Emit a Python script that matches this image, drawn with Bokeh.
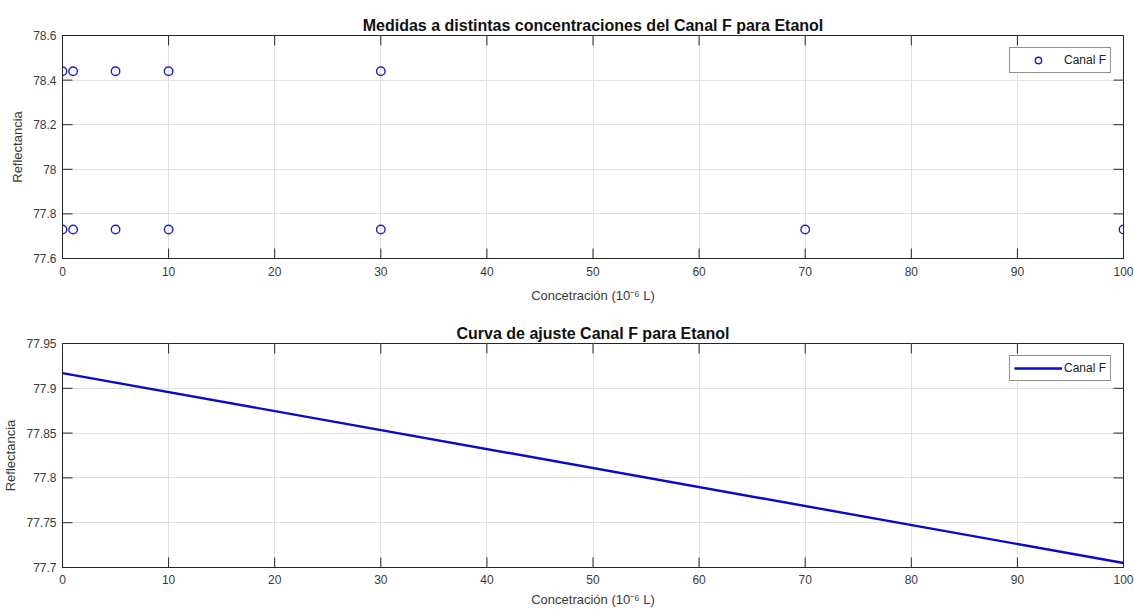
from bokeh.plotting import figure
from bokeh.layouts import column
from bokeh.models import Range1d, FixedTicker, CustomJSTickFormatter
from bokeh.embed import file_html
from bokeh.resources import INLINE

# ---- data ----
conc_meas = [0, 1, 5, 10, 30, 0, 1, 5, 10, 30, 70, 100]
refl_meas = [78.44, 78.44, 78.44, 78.44, 78.44,
             77.73, 77.73, 77.73, 77.73, 77.73, 77.73, 77.73]
fit_conc = [0, 100]
fit_refl = [77.917, 77.705]

x_ticks = [0, 10, 20, 30, 40, 50, 60, 70, 80, 90, 100]
y_ticks_top = [77.6, 77.8, 78.0, 78.2, 78.4, 78.6]
y_ticks_bottom = [77.7, 77.75, 77.8, 77.85, 77.9, 77.95]

title_top = "Medidas a distintas concentraciones del Canal F para Etanol"
title_bottom = "Curva de ajuste Canal F para Etanol"
x_label = "Concetración (10⁻⁶ L)"
y_label = "Reflectancia"
series_name = "Canal F"

FONT = "Liberation Sans"
DARK = "#262626"
GRID = "#e0e0e0"
TXT = "#3a3a3a"
TICK_PX = 10
FRAME_W = 1061

fmt_code = "return String(parseFloat(tick.toFixed(2)));"


def style(p, xr, yr, yticks, frame_h, xl_standoff, xa_standoff):
    p.title.text_font = FONT
    p.title.text_font_size = "16px"
    p.title.text_font_style = "bold"
    p.title.text_color = "#111111"
    p.title.align = "center"
    p.title.standoff = 3
    p.outline_line_color = DARK
    p.outline_line_width = 1
    p.xaxis.ticker = FixedTicker(ticks=x_ticks)
    p.yaxis.ticker = FixedTicker(ticks=yticks)
    p.yaxis.formatter = CustomJSTickFormatter(code=fmt_code)
    for ax in [p.xaxis[0], p.yaxis[0]]:
        ax.major_tick_in = 0
        ax.major_tick_out = 0
        ax.minor_tick_line_color = None
        ax.major_tick_line_color = None
        ax.axis_line_color = DARK
        ax.major_label_text_font = FONT
        ax.major_label_text_font_size = "12px"
        ax.major_label_text_color = TXT
        ax.axis_label_text_font = FONT
        ax.axis_label_text_font_size = "13px"
        ax.axis_label_text_font_style = "normal"
        ax.axis_label_text_color = TXT
    p.xaxis.major_label_standoff = xl_standoff
    p.xaxis.axis_label_standoff = xa_standoff
    p.yaxis.major_label_standoff = 6
    p.yaxis.axis_label_standoff = 5
    p.xaxis.axis_label = x_label
    p.yaxis.axis_label = y_label
    p.xgrid.ticker = FixedTicker(ticks=x_ticks)
    p.ygrid.ticker = FixedTicker(ticks=yticks)
    p.grid.grid_line_color = GRID
    p.grid.grid_line_width = 1

    # inward tick marks on all four sides (box on), length in pixels
    dy = TICK_PX * (yr[1] - yr[0]) / frame_h
    dx = TICK_PX * (xr[1] - xr[0]) / FRAME_W
    n = len(x_ticks)
    p.segment(x0=x_ticks, y0=[yr[0]] * n, x1=x_ticks, y1=[yr[0] + dy] * n,
              line_color=DARK, line_width=1)
    p.segment(x0=x_ticks, y0=[yr[1]] * n, x1=x_ticks, y1=[yr[1] - dy] * n,
              line_color=DARK, line_width=1)
    m = len(yticks)
    p.segment(x0=[xr[0]] * m, y0=yticks, x1=[xr[0] + dx] * m, y1=yticks,
              line_color=DARK, line_width=1)
    p.segment(x0=[xr[1]] * m, y0=yticks, x1=[xr[1] - dx] * m, y1=yticks,
              line_color=DARK, line_width=1)


def style_legend(p):
    lg = p.legend[0]
    lg.location = "top_right"
    lg.margin = 12
    lg.padding = 4
    lg.spacing = 0
    lg.glyph_width = 48
    lg.glyph_height = 16
    lg.label_height = 16
    lg.label_standoff = 2
    lg.label_text_font = FONT
    lg.label_text_font_size = "12px"
    lg.label_text_color = "#222222"
    lg.border_line_color = DARK
    lg.border_line_width = 1
    lg.background_fill_color = "white"
    lg.background_fill_alpha = 1


xr = (0, 100)
yr1 = (77.6, 78.6)
yr2 = (77.7, 77.95)

p1 = figure(width=1134, height=310, output_backend="svg", toolbar_location=None,
            title=title_top,
            x_range=Range1d(*xr), y_range=Range1d(*yr1),
            min_border_left=62, min_border_right=11,
            min_border_top=35, min_border_bottom=52)
style(p1, xr, yr1, y_ticks_top, 223, 8, 9)
p1.scatter(conc_meas, refl_meas, marker="circle", size=8.5,
           fill_color=None, line_color="#1f1fd0", line_width=1.4,
           legend_label=series_name)
style_legend(p1)

p2 = figure(width=1134, height=300, output_backend="svg", toolbar_location=None,
            title=title_bottom,
            x_range=Range1d(*xr), y_range=Range1d(*yr2),
            min_border_left=62, min_border_right=11,
            min_border_top=33, min_border_bottom=43)
style(p2, xr, yr2, y_ticks_bottom, 224, 7, 5)
p2.line(fit_conc, fit_refl, line_width=2.4, line_color="#0a0acc",
        legend_label=series_name)
style_legend(p2)

layout = column(p1, p2, spacing=0)
with open("out.html", "w") as f:
    f.write(file_html(layout, INLINE))
